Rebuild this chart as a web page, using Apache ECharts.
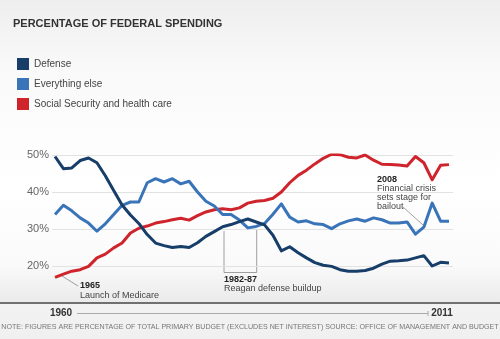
<!DOCTYPE html>
<html><head><meta charset="utf-8">
<script src="https://cdn.jsdelivr.net/npm/echarts@6/dist/echarts.min.js"></script>
<style>html,body{margin:0;padding:0;background:#fff}#c{width:500px;height:339px;}</style>
</head><body><div id="c"></div>
<script>
const seriesNames = ['Defense', 'Everything else', 'Social Security and health care'];
const defense = [49.6,46.3,46.5,48.5,49.2,47.9,44.4,40.4,36.5,33.8, 31.5,28.5,26.2,25.5,25.0,25.3,25.0,26.3,28.0,29.3, 30.6,31.2,32.0,32.7,31.9,31.1,28.3,24.1,25.2,23.6, 22.2,20.9,20.2,19.9,19.0,18.6,18.6,18.8,19.4,20.5, 21.3,21.4,21.6,22.2,22.8,20.0,21.0,20.8];
const everythingElse = [33.9,36.4,34.9,33.0,31.6,29.4,31.4,33.9,36.4,37.3, 37.3,42.5,43.6,42.7,43.6,42.2,42.9,40.0,37.5,36.2, 33.9,33.9,32.4,30.3,30.7,31.5,34.0,36.8,33.2,31.9, 32.2,31.4,31.2,30.1,31.4,32.2,32.7,32.1,33.0,32.5, 31.6,31.6,31.9,28.6,30.5,37.0,32.1,32.1];
const socialSecurityHealth = [16.9,17.8,18.6,19.0,19.9,22.2,23.2,24.9,26.2,28.9, 30.2,30.8,31.6,32.0,32.5,32.9,32.4,33.6,34.6,35.2, 35.5,35.2,35.7,37.0,37.5,37.7,38.3,40.0,42.5,44.5, 45.9,47.6,49.1,50.2,50.1,49.4,49.2,50.0,48.6,47.5, 47.4,47.3,47.0,49.6,47.9,43.3,47.2,47.4];
const yTicks = [20, 30, 40, 50];
const timelineLabels = ['1960', '2011'];
const colors = {defense: '#173d69', other: '#3a74b8', social: '#cf242b'};
const FONT = '"Liberation Sans", Arial, sans-serif';

const toPairs = arr => arr.map((v, i) => [i, v]);
const chart = echarts.init(document.getElementById('c'), null, {renderer: 'canvas'});
const n = defense.length;

function lineSeries(name, data, color, z) {
  return {name, type: 'line', data: toPairs(data), showSymbol: false, z,
    itemStyle: {color}, lineStyle: {width: 3, join: 'round', color}};
}

const option = {
  animation: false,
  backgroundColor: {type: 'linear', x: 0, y: 0, x2: 0, y2: 1, colorStops: [
    {offset: 0, color: '#eeeeee'}, {offset: 0.2, color: '#f9f9f9'}, {offset: 0.55, color: '#ffffff'},
    {offset: 0.78, color: '#fafafa'}, {offset: 0.89, color: '#ebebeb'}, {offset: 0.9, color: '#f2f2f2'}, {offset: 1, color: '#f0f0f0'}]},
  title: {text: 'PERCENTAGE OF FEDERAL SPENDING', left: 13, top: 18, padding: 0,
    textStyle: {fontFamily: FONT, fontSize: 11, fontWeight: 'bold', color: '#333'}},
  legend: {orient: 'vertical', left: 17, top: 58, itemWidth: 12, itemHeight: 12, itemGap: 8, icon: 'rect',
    padding: 0, data: seriesNames, textStyle: {fontFamily: FONT, fontSize: 10, color: '#444'}},
  grid: {left: 52, right: 47, top: 155, bottom: 36},
  xAxis: {type: 'value', min: -0.36, max: n - 1 + 0.48, show: false},
  yAxis: {type: 'value', min: 10, max: 50, interval: 10,
    axisLine: {show: false}, axisTick: {show: false},
    axisLabel: {margin: 3, fontFamily: FONT, fontSize: 11, color: '#666',
      formatter: v => yTicks.includes(v) ? v + '%' : ''},
    splitLine: {lineStyle: {color: '#e2e2e2', width: 1}}},
  series: [
    lineSeries(seriesNames[2], socialSecurityHealth, colors.social, 2),
    lineSeries(seriesNames[1], everythingElse, colors.other, 3),
    lineSeries(seriesNames[0], defense, colors.defense, 4)
  ],
  graphic: [
    {type: 'line', shape: {x1: 0, y1: 303, x2: 500, y2: 303}, style: {stroke: '#707070', lineWidth: 2}, z: 10},
    {type: 'text', style: {text: timelineLabels[0], x: 61, y: 313, align: 'center', verticalAlign: 'middle', font: 'bold 10px ' + FONT, fill: '#333'}},
    {type: 'text', style: {text: timelineLabels[1], x: 442, y: 313, align: 'center', verticalAlign: 'middle', font: 'bold 10px ' + FONT, fill: '#333'}},
    {type: 'line', shape: {x1: 77, y1: 313.5, x2: 428, y2: 313.5}, style: {stroke: '#aaaaaa', lineWidth: 1}},
    {type: 'line', shape: {x1: 428, y1: 311, x2: 428, y2: 316}, style: {stroke: '#aaaaaa', lineWidth: 1}},
    {type: 'text', style: {text: 'NOTE: FIGURES ARE PERCENTAGE OF TOTAL PRIMARY BUDGET (EXCLUDES NET INTEREST) SOURCE: OFFICE OF MANAGEMENT AND BUDGET',
      x: 250, y: 327, align: 'center', verticalAlign: 'middle', font: '7.1px ' + FONT, fill: '#777'}},
    {type: 'line', shape: {x1: 62, y1: 276, x2: 78, y2: 286}, style: {stroke: '#888', lineWidth: 0.8}},
    {type: 'text', style: {text: '1965', x: 80, y: 286, verticalAlign: 'middle', font: 'bold 9px ' + FONT, fill: '#222'}},
    {type: 'text', style: {text: 'Launch of Medicare', x: 80, y: 295.5, verticalAlign: 'middle', font: '9px ' + FONT, fill: '#444'}},
    {type: 'polyline', shape: {points: [[224, 231], [224, 272.5], [256.7, 272.5], [256.7, 230]]}, style: {stroke: '#888', lineWidth: 0.8, fill: null}},
    {type: 'text', style: {text: '1982-87', x: 224, y: 279.5, verticalAlign: 'middle', font: 'bold 9px ' + FONT, fill: '#222'}},
    {type: 'text', style: {text: 'Reagan defense buildup', x: 224, y: 289, verticalAlign: 'middle', font: '9px ' + FONT, fill: '#444'}},
    {type: 'text', style: {text: '2008', x: 377, y: 180, verticalAlign: 'middle', font: 'bold 9px ' + FONT, fill: '#222'}},
    {type: 'text', style: {text: 'Financial crisis\nsets stage for\nbailout', x: 377, y: 184, verticalAlign: 'top', lineHeight: 9, font: '9px ' + FONT, fill: '#444'}},
    {type: 'line', shape: {x1: 403, y1: 207, x2: 423, y2: 225}, style: {stroke: '#888', lineWidth: 0.8}}
  ]
};
chart.setOption(option);
</script>
</body></html>
